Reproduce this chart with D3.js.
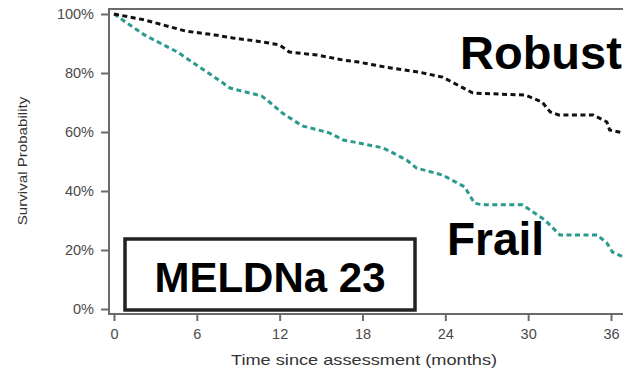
<!DOCTYPE html>
<html>
<head>
<meta charset="utf-8">
<script src="https://cdn.jsdelivr.net/npm/d3@7"></script>
<style>
  body { margin: 0; background: #fff; }
  svg { display: block; font-family: "Liberation Sans", Arial, sans-serif; }
</style>
</head>
<body>
<div id="km-plot"></div>
<script>
// months since assessment / survival (%)
var robustTime = [0, 2.2, 5.2, 7.3, 8.6, 10.8, 12.0, 12.7, 14.7, 16.6, 17.7, 19.8, 22.2, 23.8, 26.0, 29.8, 31.0, 31.6, 32.2, 34.7, 35.7, 35.9, 36.9]
var robustSurv = [100, 98, 94.2, 92.9, 91.9, 90.5, 89.5, 87.1, 86.1, 84.4, 83.7, 81.9, 80.2, 78.6, 73.2, 72.5, 70.2, 66.8, 65.8, 65.8, 63.4, 60.7, 59.7]

var frailTime = [0, 2.2, 4.6, 7.9, 8.4, 10.7, 11.1, 12.2, 13.3, 13.7, 15.6, 16.6, 17.7, 19.5, 21.2, 21.9, 23.8, 25.4, 26.1, 26.7, 29.6, 31.2, 32.3, 35.0, 35.7, 36.1, 36.9]
var frailSurv = [100, 92.9, 87.1, 76.6, 74.9, 72.2, 70.8, 66.4, 63.1, 62, 59.7, 57.3, 56.3, 54.6, 50.5, 47.8, 45.4, 41.4, 35.9, 35.3, 35.3, 30.2, 25.1, 25.1, 22.4, 19.3, 17.6]

var xTicks = [0, 6, 12, 18, 24, 30, 36]
var yTicks = [0, 20, 40, 60, 80, 100]

var groupNames = ["Robust", "Frail"]
var boxLabel = "MELDNa 23"

var svg_width = 623
var svg_height = 370

var svg = d3.select("#km-plot")
    .append("svg")
    .attr("width", svg_width)
    .attr("height", svg_height);

var xScale = d3.scaleLinear().domain([0, 36]).range([114, 611]);
var yScale = d3.scaleLinear().domain([0, 100]).range([309, 14]);

var frameLeft = 109, frameTop = 9, frameBottom = 314;
var axisColor = "#6b6b6b";

// frame (right side runs off the picture)
svg.append("path")
    .attr("d", "M" + svg_width + "," + frameTop + "H" + frameLeft + "V" + frameBottom + "H" + svg_width)
    .attr("fill", "none")
    .attr("stroke", axisColor)
    .attr("stroke-width", 2);

// y axis
var yAxis = svg.append("g")
    .attr("transform", "translate(" + frameLeft + ",0)")
    .call(d3.axisLeft(yScale).tickValues(yTicks).tickSize(8).tickPadding(7).tickFormat(d => d + "%"));
yAxis.select(".domain").remove();
yAxis.selectAll("line").attr("stroke", axisColor).attr("stroke-width", 2);
yAxis.selectAll("text")
    .attr("fill", "#4a4a4a")
    .style("font-size", "14.5px")
    .style("font-family", "Liberation Sans, Arial, sans-serif");

// x axis
var xAxis = svg.append("g")
    .attr("transform", "translate(0," + frameBottom + ")")
    .call(d3.axisBottom(xScale).tickValues(xTicks).tickSize(7).tickPadding(8));
xAxis.select(".domain").remove();
xAxis.selectAll("line").attr("stroke", axisColor).attr("stroke-width", 2);
xAxis.selectAll("text")
    .attr("fill", "#4a4a4a")
    .style("font-size", "14.5px")
    .style("font-family", "Liberation Sans, Arial, sans-serif");

// axis titles are a bit wider than the font in the picture
svg.append("text")
    .attr("transform", "translate(364,365) scale(1.3,1)")
    .attr("text-anchor", "middle")
    .attr("fill", "#333")
    .style("font-size", "14px")
    .text("Time since assessment (months)");

svg.append("text")
    .attr("transform", "translate(27,161) rotate(-90) scale(1.12,1)")
    .attr("text-anchor", "middle")
    .attr("fill", "#333")
    .style("font-size", "13.5px")
    .text("Survival Probability");

// curves
svg.append("clipPath").attr("id", "plot-clip")
    .append("rect")
    .attr("x", frameLeft + 1).attr("y", frameTop + 1)
    .attr("width", svg_width - frameLeft).attr("height", frameBottom - frameTop - 2);

var line = d3.line()
    .x(d => xScale(d[0]))
    .y(d => yScale(d[1]));

var robustData = robustTime.map((t, i) => [t, robustSurv[i]]);
var frailData = frailTime.map((t, i) => [t, frailSurv[i]]);

svg.append("path")
    .datum(frailData)
    .attr("clip-path", "url(#plot-clip)")
    .attr("d", line)
    .attr("fill", "none")
    .attr("stroke", "#2a9a8c")
    .attr("stroke-width", 3)
    .attr("stroke-dasharray", "5,3.5");

svg.append("path")
    .datum(robustData)
    .attr("clip-path", "url(#plot-clip)")
    .attr("d", line)
    .attr("fill", "none")
    .attr("stroke", "#111")
    .attr("stroke-width", 3)
    .attr("stroke-dasharray", "5,3.5");

// big labels
svg.append("text")
    .attr("x", 460)
    .attr("y", 69)
    .attr("fill", "#000")
    .style("font-size", "47px")
    .style("font-weight", "bold")
    .text(groupNames[0]);

svg.append("text")
    .attr("x", 447)
    .attr("y", 255)
    .attr("fill", "#000")
    .style("font-size", "46px")
    .style("font-weight", "bold")
    .text(groupNames[1]);

svg.append("rect")
    .attr("x", 125)
    .attr("y", 239)
    .attr("width", 290)
    .attr("height", 71)
    .attr("fill", "#fff")
    .attr("stroke", "#222")
    .attr("stroke-width", 3.5);

svg.append("text")
    .attr("x", 270)
    .attr("y", 292)
    .attr("text-anchor", "middle")
    .attr("fill", "#000")
    .style("font-size", "42px")
    .style("font-weight", "bold")
    .text(boxLabel);
</script>
</body>
</html>
